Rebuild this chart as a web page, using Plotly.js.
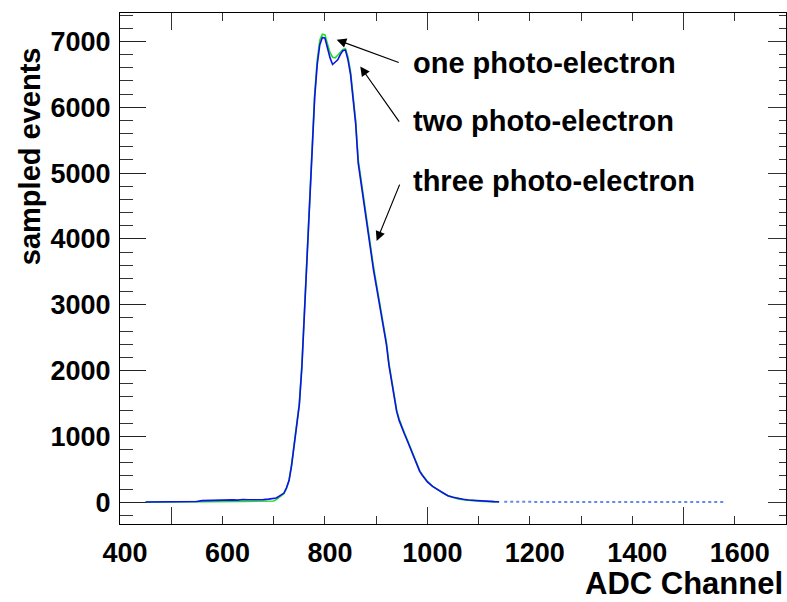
<!DOCTYPE html>
<html>
<head>
<meta charset="utf-8">
<script src="https://cdn.plot.ly/plotly-3.0.1.min.js"></script>
<style>html,body{margin:0;padding:0;background:#fff;}#chart{width:787px;height:602px;}</style>
</head>
<body>
<div id="chart"></div>
<script>
// ---- data ----
const adcX = [450,460,470,480,490,500,510,520,530,540,550,560,570,580,590,600,610,620,630,640,650,660,670,680,690,700,
  705,710,715,720,725,730,735,740,745,750,755,760,765,770,775,780,785,790,795,800,
  805,810,815,820,825,830,835,840,845,850,855,860,865,870,875,880,885,890,895,900,
  905,910,915,920,925,930,935,940,945,950,955,960,965,970,975,980,985,990,995,1000,
  1010,1020,1030,1040,1050,1060,1070,1080,1090,1100,1110,1120,1130,1140];
const blueCounts = [4,4,5,5,6,6,7,7,8,10,12,25,28,30,27,32,30,36,33,42,38,36,44,40,48,55,
  65,90,110,140,220,330,560,880,1200,1480,2050,2850,3580,4450,5250,6150,6650,6950,7060,7050,
  6900,6750,6650,6680,6720,6800,6860,6870,6720,6500,6150,5750,5150,4880,4600,4300,4020,3750,3520,3300,
  3060,2830,2620,2400,2080,1840,1600,1380,1240,1130,1040,950,850,750,660,570,470,410,350,310,
  240,190,140,100,75,55,45,35,28,22,18,14,10,8];
const greenCounts = [2,2,3,3,3,4,4,4,5,5,6,8,10,10,11,12,12,13,13,14,14,15,15,16,17,20,
  40,70,95,130,210,340,580,900,1230,1500,2080,2880,3620,4500,5300,6200,6720,7020,7110,7100,
  6960,6830,6760,6750,6790,6840,6880,6890,6760,6540,6200,5800,5200,4930,4650,4350,4070,3800,3570,3340,
  3100,2870,2660,2430,2110,1870,1620,1400,1260,1150,1060,965,865,760,670,580,480,420,360,320,
  245,190,140,100,72,52,40,30,24,18,14,11,8,6];
const tailX = [1150,1160,1170,1180,1190,1200,1210,1220,1230,1240,1250,1260,1270,1280,1290,1300,1310,1320,1330,1340,1350,1360,
  1370,1380,1390,1400,1410,1420,1430,1440,1450,1460,1470,1480,1490,1500,1510,1520,1530,1540,1550,1560,1570,1580];
const tailCounts = [7,6,6,5,6,5,6,6,5,6,5,6,5,5,6,5,6,5,5,6,5,5,6,5,5,6,5,5,5,6,5,5,6,5,5,5,6,5,5,5,6,5,5,5];
const xTickVals = [400,600,800,1000,1200,1400,1600];
const xTickText = ['400','600','800','1000','1200','1400','1600'];
const labels = ['one photo-electron','two photo-electron','three photo-electron'];
const labelY = [6676,5795,4883];
const arrowTail = [[947,6672],[947,5760],[947,4848]];
const arrowHead = [[823,7026],[869,6620],[901,3970]];

// ---- chart ----
const FONT = 'Liberation Sans, Arial, Helvetica, sans-serif';
const XR = [400,1700], YR = [-330,7432];

const traces = [
  {x: adcX, y: greenCounts, mode:'lines', line:{color:'#22dd22', width:1.6}, hoverinfo:'skip'},
  {x: adcX, y: blueCounts, mode:'lines', line:{color:'#1010ee', width:1.6}, hoverinfo:'skip'},
  {x: tailX, y: tailCounts, mode:'lines', line:{color:'#6688ee', width:2, dash:'dot'}, hoverinfo:'skip'},
  {x: [], y: [], xaxis:'x2', yaxis:'y', hoverinfo:'skip'},
  {x: [], y: [], xaxis:'x3', yaxis:'y', hoverinfo:'skip'},
  {x: [], y: [], xaxis:'x', yaxis:'y2', hoverinfo:'skip'}
];

const annotations = [];
labels.forEach((t,i)=>{
  annotations.push({x: 968, y: labelY[i], xref:'x', yref:'y', text: t, showarrow:false,
    xanchor:'left', yanchor:'middle', font:{family:FONT, size:29, weight:700, color:'black'}});
  annotations.push({x: arrowHead[i][0], y: arrowHead[i][1], ax: arrowTail[i][0], ay: arrowTail[i][1],
    xref:'x', yref:'y', axref:'x', ayref:'y', text:'', showarrow:true,
    arrowhead:2, arrowsize:1.6, arrowwidth:1.2, arrowcolor:'black', standoff:0});
});
annotations.push({text:'sampled events', xref:'paper', yref:'paper', x:-0.135, y:0.72, textangle:-90,
  showarrow:false, xanchor:'center', yanchor:'middle', font:{family:FONT, size:29, weight:700, color:'black'}});
annotations.push({text:'ADC Channel', xref:'paper', yref:'paper', x:0.999, y:-0.117,
  showarrow:false, xanchor:'right', yanchor:'middle', font:{family:FONT, size:31, weight:700, color:'black'}});

const layout = {
  width:787, height:602,
  margin:{l:120, r:1, t:13, b:78, pad:0},
  paper_bgcolor:'white', plot_bgcolor:'white', showlegend:false,
  font:{family:FONT, color:'black'},
  xaxis:{range:XR, tickmode:'array', tickvals:xTickVals, ticktext:xTickText, ticks:'',
    ticklabelshift:5, ticklabelstandoff:5,
    showgrid:false, zeroline:false, showline:true, linecolor:'black', linewidth:1, mirror:true,
    tickfont:{family:FONT, size:27, weight:700, color:'black'}},
  xaxis2:{range:XR, overlaying:'x', side:'top', anchor:'y', tickmode:'linear', tick0:0, dtick:500,
    ticks:'inside', ticklen:17, tickwidth:1, tickcolor:'#333', showticklabels:false, showgrid:false, zeroline:false, showline:false,
    minor:{tick0:0, dtick:100, ticks:'inside', ticklen:8, tickwidth:1, tickcolor:'#333', showgrid:false}},
  xaxis3:{range:XR, overlaying:'x', side:'bottom', anchor:'y', tickmode:'linear', tick0:0, dtick:500,
    ticks:'inside', ticklen:17, tickwidth:1, tickcolor:'#333', showticklabels:false, showgrid:false, zeroline:false, showline:false,
    minor:{tick0:0, dtick:100, ticks:'inside', ticklen:8, tickwidth:1, tickcolor:'#333', showgrid:false}},
  yaxis:{range:YR, tickmode:'linear', tick0:0, dtick:1000, ticks:'inside', ticklen:26, tickwidth:1, tickcolor:'#222',
    ticklabelstandoff:3,
    minor:{tick0:0, dtick:200, ticks:'inside', ticklen:13, tickwidth:1, tickcolor:'#333', showgrid:false},
    showgrid:false, zeroline:false, showline:true, linecolor:'black', linewidth:1, mirror:true,
    tickfont:{family:FONT, size:27, weight:700, color:'black'}},
  yaxis2:{range:YR, overlaying:'y', side:'right', anchor:'x', tickmode:'linear', tick0:0, dtick:1000,
    ticks:'inside', ticklen:18, tickwidth:1, tickcolor:'#333', showticklabels:false, showgrid:false, zeroline:false, showline:false,
    minor:{tick0:0, dtick:200, ticks:'inside', ticklen:7, tickwidth:1, tickcolor:'#333', showgrid:false}},
  annotations: annotations
};

Plotly.newPlot('chart', traces, layout, {staticPlot:true, displayModeBar:false});
</script>
</body>
</html>
